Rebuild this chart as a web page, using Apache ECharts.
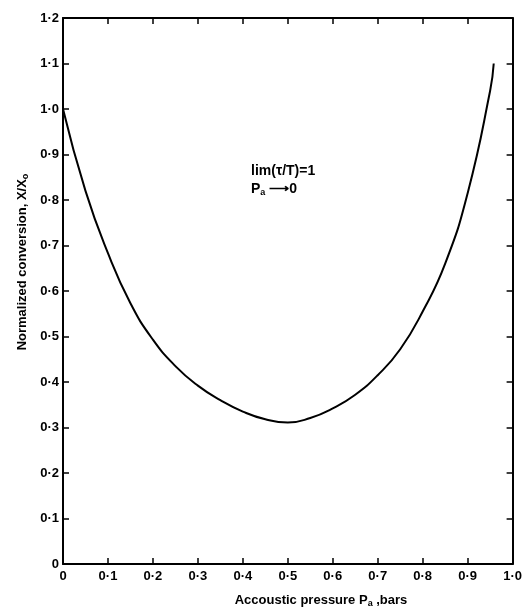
<!DOCTYPE html>
<html>
<head>
<meta charset="utf-8">
<script src="https://cdn.jsdelivr.net/npm/echarts@6/dist/echarts.min.js"></script>
<style>
  html, body { margin: 0; padding: 0; background: #fff; }
  #chart { width: 525px; height: 609px; }
</style>
</head>
<body>
<div id="chart"></div>
<script>
// pressure values (bars) and normalized conversion
var pressure = [0, 0.05, 0.1, 0.15, 0.2, 0.25, 0.3, 0.35, 0.4, 0.45, 0.5, 0.55, 0.6, 0.65, 0.7, 0.75, 0.8, 0.85, 0.9, 0.95, 0.958]
var conversion = [1.0, 0.82, 0.683, 0.573, 0.493, 0.435, 0.392, 0.36, 0.335, 0.318, 0.311, 0.321, 0.342, 0.372, 0.415, 0.472, 0.555, 0.66, 0.815, 1.04, 1.1]

var xTicks = ['0', '0·1', '0·2', '0·3', '0·4', '0·5', '0·6', '0·7', '0·8', '0·9', '1·0']
var yTicks = ['0', '0·1', '0·2', '0·3', '0·4', '0·5', '0·6', '0·7', '0·8', '0·9', '1·0', '1·1', '1·2']

var font = 'Liberation Sans'

var myChart = echarts.init(document.getElementById('chart'))

var points = pressure.map(function (p, i) { return [p, conversion[i]] })

function axisBase (extra) {
  return Object.assign({
    type: 'value',
    axisLine: { show: true, onZero: false, lineStyle: { color: '#000', width: 2 } },
    axisTick: { show: true, inside: true, length: 6, lineStyle: { color: '#000', width: 1.5 } },
    splitLine: { show: false }
  }, extra)
}

var option = {
  animation: false,
  backgroundColor: '#fff',
  grid: { left: 63, right: 8, top: 18, bottom: 45 },
  xAxis: [
    axisBase({
      position: 'bottom', min: 0, max: 1, interval: 0.1,
      axisLabel: {
        color: '#000', fontFamily: font, fontWeight: 'bold', fontSize: 13, margin: 6,
        formatter: function (v) { return xTicks[Math.round(v * 10)] }
      }
    }),
    axisBase({ position: 'top', min: 0, max: 1, interval: 0.1, axisLabel: { show: false } })
  ],
  yAxis: [
    axisBase({
      position: 'left', min: 0, max: 1.2, interval: 0.1,
      axisLabel: {
        color: '#000', fontFamily: font, fontWeight: 'bold', fontSize: 13, margin: 4,
        formatter: function (v) { return yTicks[Math.round(v * 10)] }
      }
    }),
    axisBase({ position: 'right', min: 0, max: 1.2, interval: 0.1, axisLabel: { show: false } })
  ],
  graphic: [
    {
      type: 'text', x: 321, y: 600,
      style: {
        text: 'Accoustic pressure P{s|a} ,bars',
        font: 'bold 13px ' + font, fill: '#000', align: 'center', verticalAlign: 'middle',
        rich: { s: { fontSize: 9, fontWeight: 'bold', fontFamily: font, padding: [8, 0, 0, 0] } }
      }
    },
    {
      type: 'text', x: 22, y: 262, rotation: Math.PI / 2,
      style: {
        text: 'Normalized conversion, X/X{s|o}',
        font: 'bold 13px ' + font, fill: '#000', align: 'center', verticalAlign: 'middle',
        rich: { s: { fontSize: 9, fontWeight: 'bold', fontFamily: font, padding: [8, 0, 0, 0] } }
      }
    },
    {
      type: 'text', x: 251, y: 171,
      style: {
        text: 'lim(τ/T)=1',
        font: 'bold 14px ' + font, fill: '#000', align: 'left', verticalAlign: 'middle'
      }
    },
    {
      type: 'text', x: 251, y: 189,
      style: {
        text: 'P{s|a} ⟶0',
        font: 'bold 14px ' + font, fill: '#000', align: 'left', verticalAlign: 'middle',
        rich: { s: { fontSize: 9, fontWeight: 'bold', fontFamily: font, padding: [8, 0, 0, 0] } }
      }
    }
  ],
  series: [{
    type: 'line',
    data: points,
    smooth: 0.5,
    showSymbol: false,
    lineStyle: { color: '#000', width: 2 }
  }]
}

myChart.setOption(option)
</script>
</body>
</html>
